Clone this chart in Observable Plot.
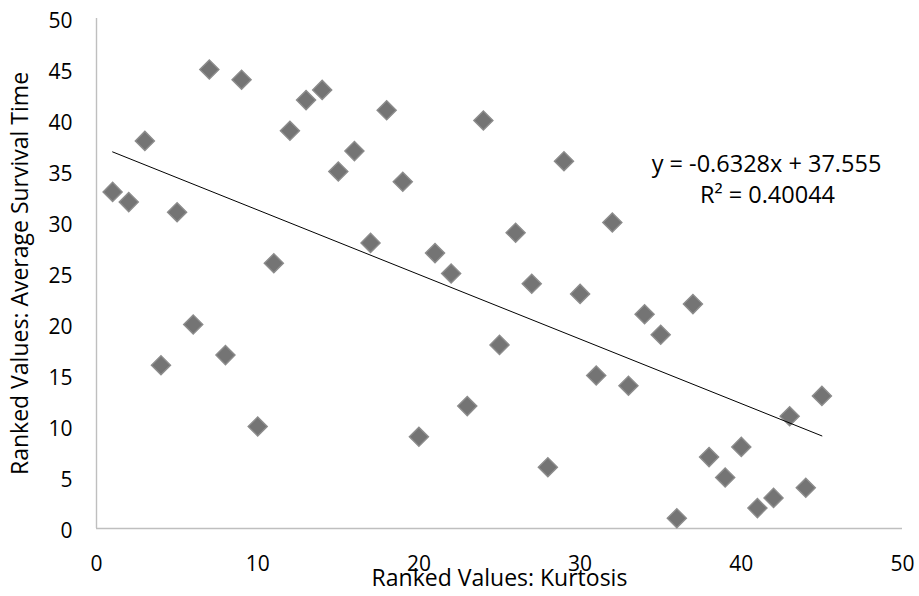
<!DOCTYPE html>
<html>
<head>
<meta charset="utf-8">
<script src="https://cdn.jsdelivr.net/npm/d3@7"></script>
<script src="https://cdn.jsdelivr.net/npm/@observablehq/plot@0.6"></script>
<style>
  html, body { margin: 0; padding: 0; background: #fff; }
  #chart svg { display: block; }
</style>
</head>
<body>
<div id="chart"></div>
<script>
// Ranked kurtosis (x) vs ranked average survival time (y)
const kurtosisRank = [1,2,3,4,5,6,7,8,9,10,11,12,13,14,15,16,17,18,19,20,21,22,23,24,25,26,27,28,29,30,31,32,33,34,35,36,37,38,39,40,41,42,43,44,45];
const survivalRank = [33,32,38,16,31,20,45,17,44,10,26,39,42,43,35,37,28,41,34,9,27,25,12,40,18,29,24,6,36,23,15,30,14,21,19,1,22,7,5,8,2,3,11,4,13];
const xTicks = [0,10,20,30,40,50];
const yTicks = [0,5,10,15,20,25,30,35,40,45,50];
const xTitle = "Ranked Values: Kurtosis";
const yTitle = "Ranked Values: Average Survival Time";
const equationLines = ["y = -0.6328x + 37.555", "R² = 0.40044"];

const data = kurtosisRank.map((k, i) => ({x: k, y: survivalRank[i]}));
const font = "'Open Sans', 'Noto Sans', sans-serif";

const chart = Plot.plot({
  width: 919,
  height: 596,
  marginLeft: 96,
  marginRight: 17,
  marginTop: 18,
  marginBottom: 68,
  style: {fontFamily: font, fontSize: "21px", color: "#000", background: "#fff", overflow: "visible"},
  x: {domain: [0, 50]},
  y: {domain: [0, 50]},
  marks: [
    Plot.ruleX([0], {stroke: "#bfbfbf", strokeWidth: 1.4}),
    Plot.ruleY([0], {stroke: "#bfbfbf", strokeWidth: 1.4}),
    Plot.axisY({ticks: yTicks, tickSize: 0, tickPadding: 24, dy: 3, label: null, fontSize: 21, fill: "#000"}),
    Plot.axisX({ticks: xTicks, tickSize: 0, tickPadding: 28, label: null, fontSize: 21, fill: "#000"}),
    Plot.dot(data, {x: "x", y: "y", symbol: "diamond2", r: 8.6, fill: "#747474", stroke: "#8c8c8c", strokeWidth: 1.4}),
    Plot.linearRegressionY(data, {x: "x", y: "y", stroke: "#000", strokeWidth: 1, ci: 0}),
    Plot.text([xTitle], {frameAnchor: "bottom", dy: 57, textAnchor: "middle", fontSize: 23, fill: "#000"}),
    Plot.text([yTitle], {frameAnchor: "left", dx: -76, textAnchor: "middle", rotate: -90, fontSize: 23, fill: "#000"}),
    Plot.text([equationLines[0]], {frameAnchor: "top-right", dx: -136, dy: 137, textAnchor: "middle", fontSize: 23.5, fill: "#000"}),
    Plot.text([equationLines[1]], {frameAnchor: "top-right", dx: -135, dy: 168, textAnchor: "middle", fontSize: 23.5, fill: "#000"})
  ]
});
document.getElementById("chart").appendChild(chart);
</script>
</body>
</html>
